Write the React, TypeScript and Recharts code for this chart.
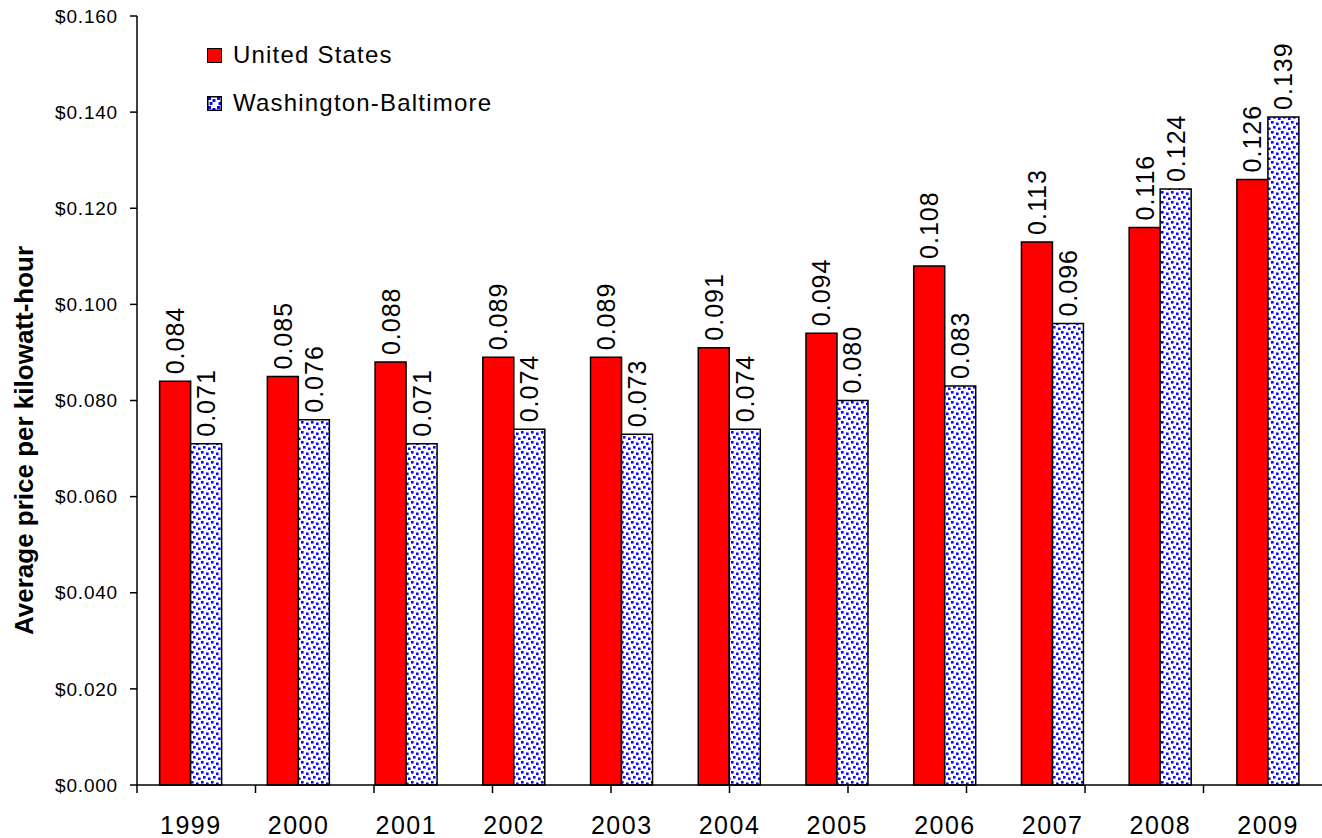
import React from 'react';
import { BarChart, Bar, XAxis, YAxis, Legend, LabelList } from 'recharts';

const years = ['1999', '2000', '2001', '2002', '2003', '2004', '2005', '2006', '2007', '2008', '2009'];
const usValues = [0.084, 0.085, 0.088, 0.089, 0.089, 0.091, 0.094, 0.108, 0.113, 0.116, 0.126];
const wbValues = [0.071, 0.076, 0.071, 0.074, 0.073, 0.074, 0.08, 0.083, 0.096, 0.124, 0.139];
const yTicks = [0, 0.02, 0.04, 0.06, 0.08, 0.1, 0.12, 0.14, 0.16];
const gridTicks = [0, 1, 2, 3, 4, 5, 6, 7, 8, 9, 10, 11];
const seriesNames = { us: 'United States', wb: 'Washington-Baltimore' };

const data = years.map((year, i) => ({ year, us: usValues[i], wb: wbValues[i] }));

const FONT = '"Liberation Sans", Arial, sans-serif';

const RotatedLabel = (props: any) => {
  const { x, y, width, value } = props;
  const cx = Number(x) + Number(width) / 2;
  const ty = Number(y) - 7;
  return (
    <text
      x={cx}
      y={ty}
      transform={`rotate(-90 ${cx} ${ty})`}
      textAnchor="start"
      dominantBaseline="central"
      fontSize={25}
      letterSpacing={1}
      fontFamily={FONT}
      fill="#000"
    >
      {Number(value).toFixed(3)}
    </text>
  );
};

const EmptyTick = () => <g />;

const DotSwatch = () => (
  <svg width={15} height={15} style={{ display: 'block' }}>
    <defs>
      <pattern id="dotsLegend" width={9} height={9} patternUnits="userSpaceOnUse">
        <rect width={9} height={9} fill="#fff" />
        <rect x={1} y={1} width={3} height={3} fill="#0a0aff" />
        <rect x={5.5} y={3} width={3} height={3} fill="#0a0aff" />
        <rect x={2.5} y={6} width={3} height={3} fill="#0a0aff" />
      </pattern>
    </defs>
    <rect x={0.75} y={0.75} width={13.5} height={13.5} fill="url(#dotsLegend)" stroke="#000" strokeWidth={1.5} />
  </svg>
);

const LegendContent = (props: any) => {
  const { payload } = props;
  return (
    <div style={{ fontFamily: FONT, fontSize: 24, letterSpacing: 1.2, color: '#000' }}>
      {(payload || []).map((entry: any, i: number) => (
        <div key={i} style={{ display: 'flex', alignItems: 'center', height: 26, marginBottom: i === 0 ? 22 : 0 }}>
          {entry.dataKey === 'wb' ? (
            <DotSwatch />
          ) : (
            <div style={{ width: 13, height: 13, background: '#ff0000', border: '1px solid #000' }} />
          )}
          <span style={{ marginLeft: 11 }}>{entry.value}</span>
        </div>
      ))}
    </div>
  );
};

export default function App() {
  return (
    <div style={{ position: 'absolute', left: 0, top: 0, width: 1322, height: 838, background: '#fff' }}>
      <svg width={0} height={0} style={{ position: 'absolute' }}>
        <defs>
          <pattern id="dots" width={10} height={10} patternUnits="userSpaceOnUse">
            <rect width={10} height={10} fill="#fff" />
            <rect x={1} y={1} width={2.6} height={2.6} fill="#0a0aff" />
            <rect x={6} y={2.5} width={2.6} height={2.6} fill="#0a0aff" />
            <rect x={3} y={6} width={2.6} height={2.6} fill="#0a0aff" />
            <rect x={8} y={7.5} width={2} height={2.5} fill="#0a0aff" />
            <rect x={0} y={7.5} width={0.6} height={2.5} fill="#0a0aff" />
          </pattern>
        </defs>
      </svg>
      <BarChart
        width={1322}
        height={838}
        data={data}
        margin={{ top: 16, right: 0, bottom: 0, left: 0 }}
        barCategoryGap="21%"
        barGap={0}
      >
        <XAxis
          xAxisId="b_cat"
          dataKey="year"
          type="category"
          height={52}
          axisLine={false}
          tickLine={false}
          tickSize={6}
          tickMargin={24}
          interval={0}
          tick={{ fontSize: 25, fill: '#000', fontFamily: FONT, letterSpacing: 1.5 }}
        />
        <XAxis
          xAxisId="a_grid"
          type="number"
          domain={[0, 11]}
          ticks={gridTicks}
          height={1}
          tick={<EmptyTick />}
          tickSize={8}
          axisLine={{ stroke: '#000', strokeWidth: 1.5 }}
          tickLine={{ stroke: '#000', strokeWidth: 1.5 }}
          allowDataOverflow
        />
        <YAxis
          domain={[0, 0.16]}
          ticks={yTicks}
          width={137}
          interval={0}
          tickFormatter={(v: number) => '$' + v.toFixed(3)}
          tickSize={7}
          tickMargin={12}
          axisLine={{ stroke: '#000', strokeWidth: 1.5 }}
          tickLine={{ stroke: '#000', strokeWidth: 1.5 }}
          tick={{ fontSize: 19, fill: '#000', fontFamily: FONT, letterSpacing: 0.8 }}
          label={{
            content: (p: any) => {
              const vb = p.viewBox || {};
              const cy = Number(vb.y) + Number(vb.height) / 2 + 40;
              const cx = 24;
              return (
                <text
                  x={cx}
                  y={cy}
                  transform={`rotate(-90 ${cx} ${cy})`}
                  textAnchor="middle"
                  dominantBaseline="central"
                  fontSize={26}
                  fontWeight="bold"
                  fontFamily={FONT}
                  fill="#000"
                >
                  Average price per kilowatt-hour
                </text>
              );
            },
          }}
        />
        <Legend
          layout="horizontal"
          verticalAlign="middle"
          align="center"
          content={<LegendContent />}
          wrapperStyle={{ left: 207, top: 42, width: 400, height: 80 }}
        />
        <Bar
          xAxisId="b_cat"
          dataKey="us"
          name={seriesNames.us}
          fill="#ff0000"
          stroke="#000"
          strokeWidth={1.5}
          isAnimationActive={false}
        >
          <LabelList dataKey="us" content={<RotatedLabel />} />
        </Bar>
        <Bar
          xAxisId="b_cat"
          dataKey="wb"
          name={seriesNames.wb}
          fill="url(#dots)"
          stroke="#000"
          strokeWidth={1.5}
          isAnimationActive={false}
        >
          <LabelList dataKey="wb" content={<RotatedLabel />} />
        </Bar>
      </BarChart>
    </div>
  );
}
